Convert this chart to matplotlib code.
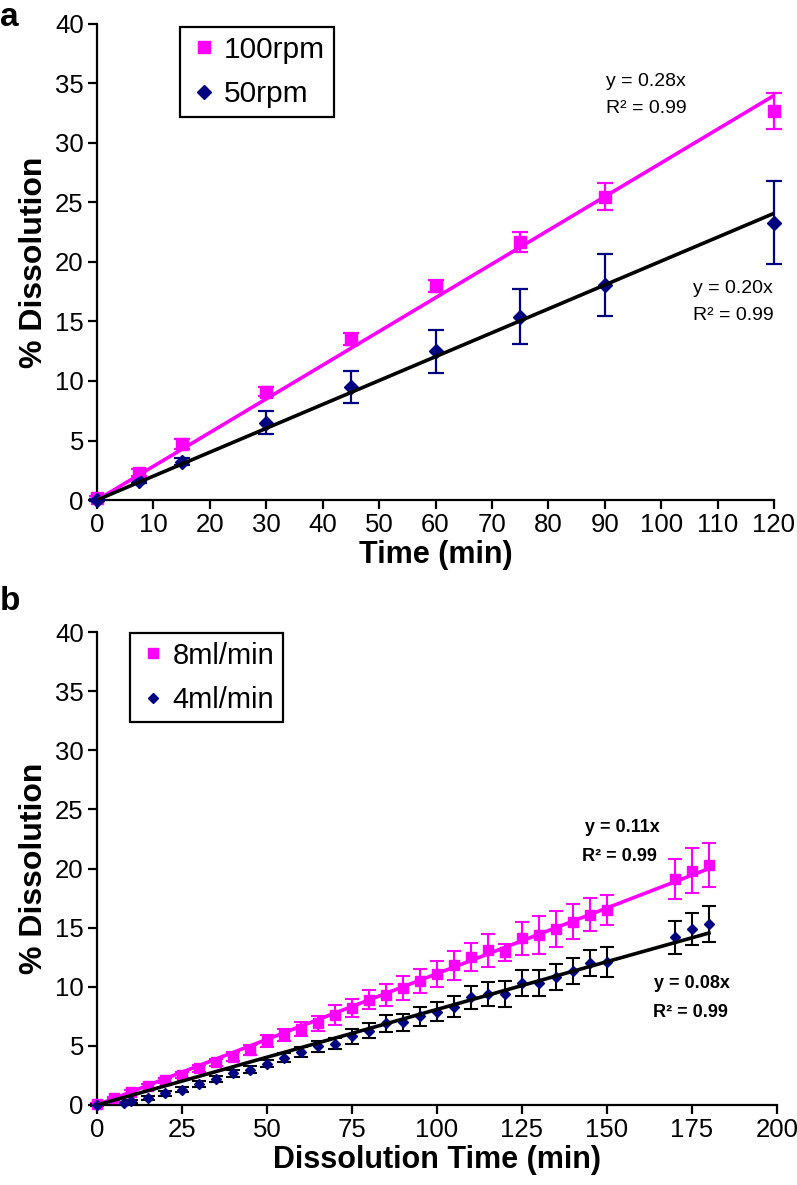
import numpy as np
import matplotlib
matplotlib.use("Agg")
import matplotlib.pyplot as plt
from matplotlib.lines import Line2D

plt.rcParams['font.family'] = ['Liberation Sans', 'DejaVu Sans']

# panel a: rotation speed
time_a = [0, 7.5, 15, 30, 45, 60, 75, 90, 120]
rpm100 = [0.2, 2.3, 4.7, 9.1, 13.5, 18.0, 21.7, 25.5, 32.7]
rpm100_err = [0.1, 0.3, 0.4, 0.4, 0.5, 0.5, 0.85, 1.1, 1.5]
rpm50 = [0.0, 1.6, 3.2, 6.5, 9.5, 12.5, 15.4, 18.1, 23.3]
rpm50_err = [0.1, 0.2, 0.3, 0.95, 1.35, 1.8, 2.3, 2.6, 3.5]

# panel b: flow rate
time_b8 = [0, 5, 10, 15, 20, 25, 30, 35, 40, 45, 50, 55, 60, 65, 70, 75, 80, 85,
           90, 95, 100, 105, 110, 115, 120, 125, 130, 135, 140, 145, 150, 170, 175, 180]
flow8 = [0.1, 0.6, 1.1, 1.6, 2.1, 2.5, 3.1, 3.6, 4.1, 4.65, 5.4, 5.9, 6.4, 6.9, 7.6, 8.2,
         8.9, 9.3, 9.9, 10.5, 11.1, 11.8, 12.5, 13.1, 12.9, 14.1, 14.4, 14.9, 15.5, 16.1,
         16.5, 19.1, 19.8, 20.3]
flow8_err = [0.1, 0.1, 0.15, 0.2, 0.2, 0.25, 0.3, 0.3, 0.35, 0.4, 0.5, 0.5, 0.6, 0.6, 0.85,
             0.8, 0.8, 0.9, 1.0, 1.0, 1.1, 1.2, 1.2, 1.4, 0.7, 1.4, 1.6, 1.5, 1.5, 1.4, 1.3,
             1.7, 1.9, 1.85]
time_b4 = [0, 8, 10, 15, 20, 25, 30, 35, 40, 45, 50, 55, 60, 65, 70, 75, 80, 85,
           90, 95, 100, 105, 110, 115, 120, 125, 130, 135, 140, 145, 150, 170, 175, 180]
flow4 = [0.0, 0.15, 0.3, 0.6, 1.0, 1.3, 1.8, 2.2, 2.7, 3.0, 3.5, 4.0, 4.5, 4.95, 5.2, 5.8,
         6.3, 6.9, 7.0, 7.5, 7.9, 8.3, 9.1, 9.4, 9.4, 10.3, 10.3, 10.85, 11.3, 12.0, 12.1,
         14.2, 14.9, 15.3]
flow4_err = [0.05, 0.1, 0.1, 0.15, 0.2, 0.2, 0.25, 0.25, 0.3, 0.3, 0.3, 0.4, 0.4, 0.5, 0.5,
             0.6, 0.6, 0.7, 0.7, 0.8, 0.8, 0.9, 1.0, 1.0, 1.1, 1.1, 1.1, 1.1, 1.1, 1.1, 1.3,
             1.4, 1.35, 1.5]

MAG = '#FF00FF'
NAVY = '#000080'


def origin_slope(x, y):
    x = np.asarray(x, float)
    y = np.asarray(y, float)
    return np.sum(x * y) / np.sum(x * x)


def style_axes(ax, xmax, xstep, xlabel):
    ax.set_xlim(0, xmax)
    ax.set_ylim(0, 40)
    ax.set_xticks(np.arange(0, xmax + 1, xstep))
    ax.set_yticks(np.arange(0, 41, 5))
    for s in ['top', 'right']:
        ax.spines[s].set_visible(False)
    for s in ['left', 'bottom']:
        ax.spines[s].set_linewidth(1.6)
    ax.tick_params(direction='out', length=6.5, width=1.6, labelsize=18.5, pad=3)
    ax.set_xlabel(xlabel, fontsize=22, fontweight='bold', labelpad=2)
    ax.set_ylabel('% Dissolution', fontsize=23, fontweight='bold', labelpad=4)


def add_legend(ax, handles, anchor, size):
    leg = ax.legend(handles=handles, loc='upper left', bbox_to_anchor=anchor,
                    borderaxespad=0, fontsize=size, handletextpad=0.15, handlelength=1.0,
                    fancybox=False, framealpha=1, edgecolor='black', borderpad=0.3,
                    labelspacing=0.55)
    leg.get_frame().set_linewidth(1.6)


fig = plt.figure(figsize=(7.97, 11.85), dpi=100)
ax1 = fig.add_axes([97 / 797, 1 - 500 / 1185, 677 / 797, 476 / 1185])
ax2 = fig.add_axes([97 / 797, 1 - 1105 / 1185, 680 / 797, 473 / 1185])

# ---- panel a
ax1.errorbar(time_a, rpm100, yerr=rpm100_err, fmt='s', color=MAG, ms=9, mec=MAG,
             ecolor=MAG, elinewidth=1.6, capsize=6, capthick=1.6,
             clip_on=False, zorder=3)
ax1.errorbar(time_a, rpm50, yerr=rpm50_err, fmt='D', color=NAVY, ms=7.5, mec=NAVY,
             ecolor=NAVY, elinewidth=1.6, capsize=6, capthick=1.6,
             clip_on=False, zorder=3)
xa = np.array([0, max(time_a)])
ax1.plot(xa, origin_slope(time_a, rpm100) * xa, color=MAG, lw=2.6, zorder=4)
ax1.plot(xa, origin_slope(time_a, rpm50) * xa, color='black', lw=2.6, zorder=4)
ax1.text(97.3, 35.2, 'y = 0.28x', fontsize=14, ha='center', va='center')
ax1.text(97.4, 32.9, 'R² = 0.99', fontsize=14, ha='center', va='center')
ax1.text(112.7, 17.8, 'y = 0.20x', fontsize=14, ha='center', va='center')
ax1.text(112.7, 15.5, 'R² = 0.99', fontsize=14, ha='center', va='center')
style_axes(ax1, 120, 10, 'Time (min)')
add_legend(ax1, [Line2D([], [], ls='none', marker='s', ms=9, color=MAG, label='100rpm'),
                 Line2D([], [], ls='none', marker='D', ms=7.5, color=NAVY, label='50rpm')],
           (0.123, 0.994), 21.5)

# ---- panel b
ax2.errorbar(time_b8, flow8, yerr=flow8_err, fmt='s', color=MAG, ms=7, mec=MAG,
             ecolor=MAG, elinewidth=1.5, capsize=5, capthick=1.5,
             clip_on=False, zorder=3)
ax2.errorbar(time_b4, flow4, yerr=flow4_err, fmt='D', color=NAVY, ms=5.5, mec=NAVY,
             ecolor='black', elinewidth=1.5, capsize=5, capthick=1.5,
             clip_on=False, zorder=3)
xb = np.array([0, max(time_b8)])
ax2.plot(xb, origin_slope(time_b8, flow8) * xb, color=MAG, lw=2.6, zorder=4)
ax2.plot(xb, origin_slope(time_b4, flow4) * xb, color='black', lw=2.6, zorder=4)
ax2.text(154.4, 23.5, 'y = 0.11x', fontsize=13, fontweight='bold', ha='center', va='center')
ax2.text(153.8, 21.0, 'R² = 0.99', fontsize=13, fontweight='bold', ha='center', va='center')
ax2.text(175.0, 10.3, 'y = 0.08x', fontsize=13, fontweight='bold', ha='center', va='center')
ax2.text(174.6, 7.85, 'R² = 0.99', fontsize=13, fontweight='bold', ha='center', va='center')
style_axes(ax2, 200, 25, 'Dissolution Time (min)')
add_legend(ax2, [Line2D([], [], ls='none', marker='s', ms=7, color=MAG, label='8ml/min'),
                 Line2D([], [], ls='none', marker='D', ms=5.5, color=NAVY, label='4ml/min')],
           (0.0485, 0.998), 21)

fig.text(0.0, 1 - 18 / 1185, 'a', fontsize=24, fontweight='bold', va='center')
fig.text(0.0, 1 - 602 / 1185, 'b', fontsize=24, fontweight='bold', va='center')

fig.savefig('out.png', dpi=100)
